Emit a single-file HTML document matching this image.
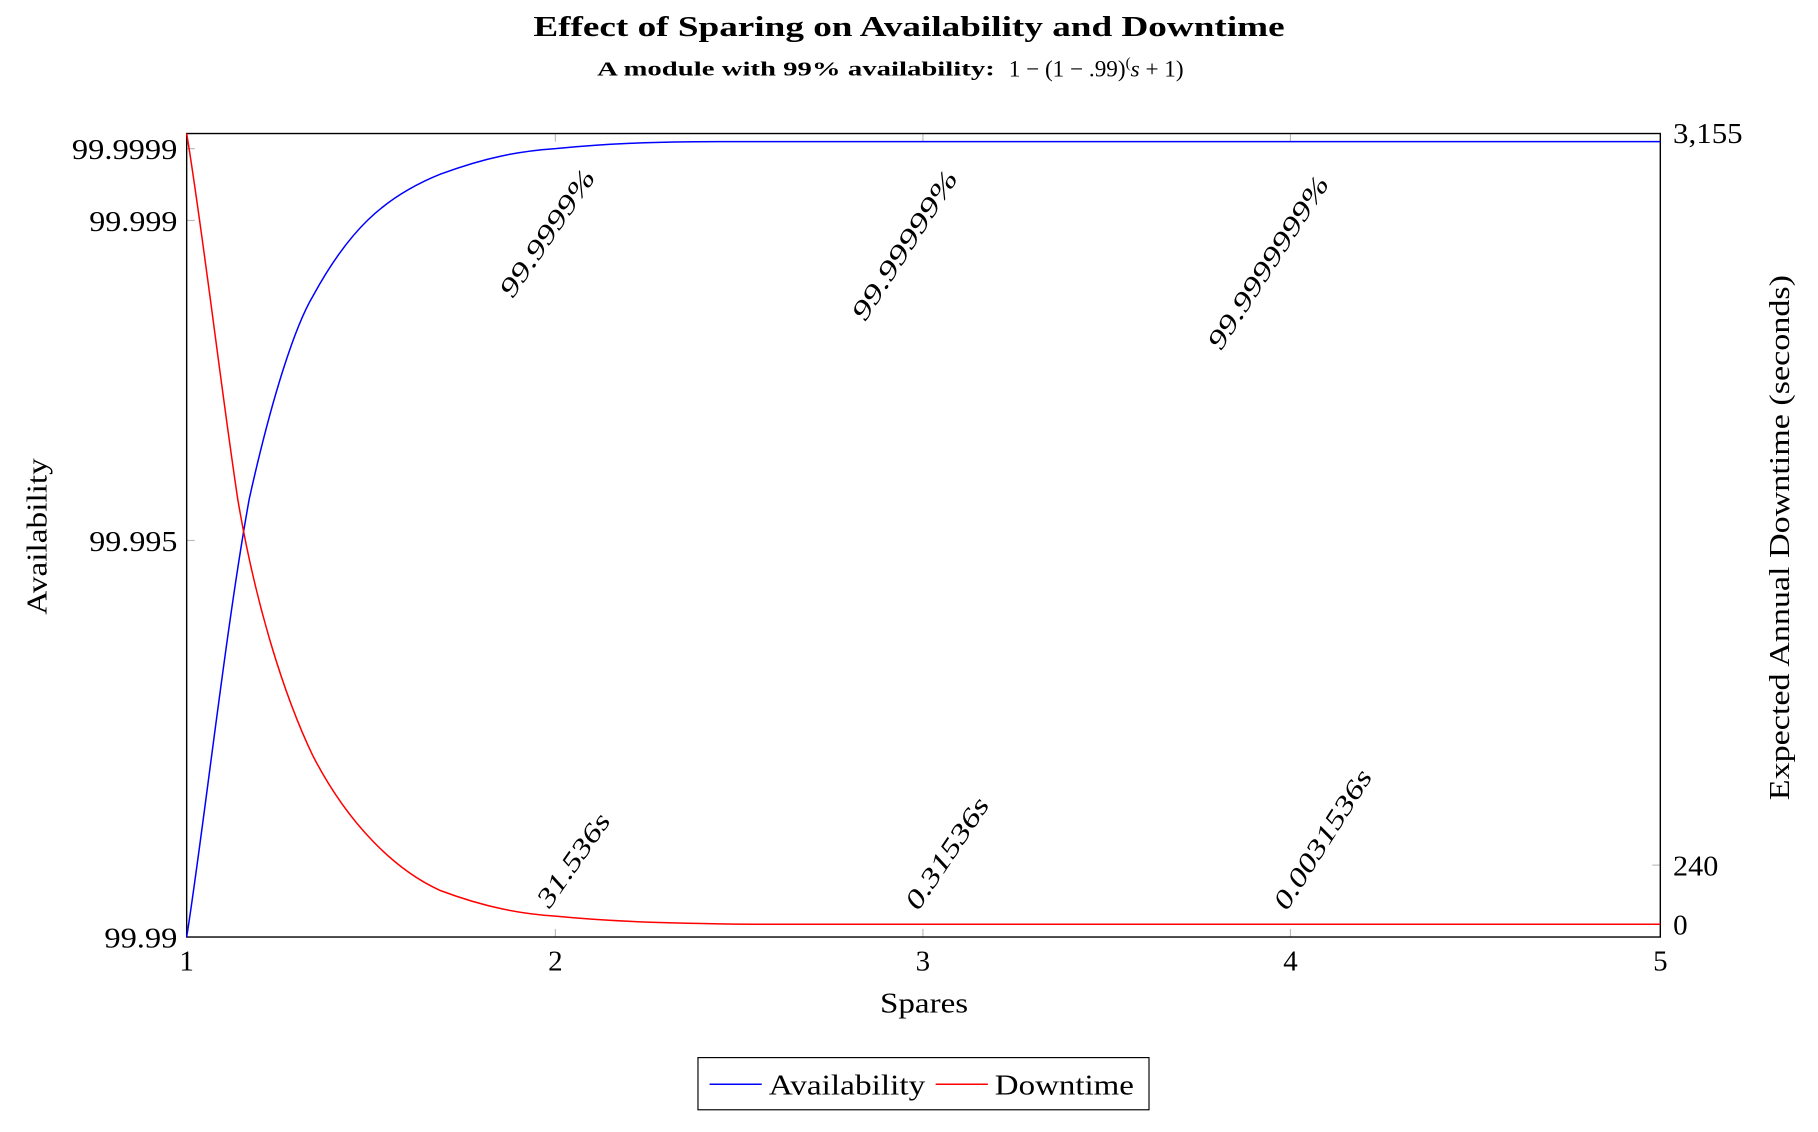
<!DOCTYPE html>
<html><head><meta charset="utf-8"><style>html,body{margin:0;padding:0;background:#fff}svg{display:block}</style></head>
<body>
<svg width="1818" height="1132" viewBox="0 0 1568 976" xmlns="http://www.w3.org/2000/svg" font-family="Liberation Serif, serif">
<text x="460" y="31" textLength="648" lengthAdjust="spacingAndGlyphs" font-size="25" font-weight="bold">Effect of Sparing on Availability and Downtime</text>
<text x="515" y="65" font-size="17" font-weight="bold" textLength="343" lengthAdjust="spacingAndGlyphs">A module with 99% availability:</text>
<text x="870" y="66" font-size="20"><tspan>1 − (1 − .99)</tspan><tspan font-size="13" dy="-8">(</tspan><tspan dy="8" font-style="italic">s</tspan><tspan> + 1)</tspan></text>
<g stroke="#bbb" stroke-width="1">
<line x1="161" y1="128" x2="168" y2="128"/><line x1="161" y1="190" x2="168" y2="190"/><line x1="161" y1="466" x2="168" y2="466"/>
<line x1="1425" y1="746" x2="1432" y2="746"/><line x1="1425" y1="797" x2="1432" y2="797"/>
<line x1="479" y1="115" x2="479" y2="122"/><line x1="796" y1="115" x2="796" y2="122"/><line x1="1113" y1="115" x2="1113" y2="122"/>
<line x1="479" y1="801" x2="479" y2="808"/><line x1="796" y1="801" x2="796" y2="808"/><line x1="1113" y1="801" x2="1113" y2="808"/>
</g>
<rect x="161" y="115" width="1271" height="693" fill="none" stroke="#000" stroke-width="1.2"/>
<g font-size="25">
<text x="62" y="137" textLength="91" lengthAdjust="spacingAndGlyphs">99.9999</text>
<text x="77" y="199" textLength="76" lengthAdjust="spacingAndGlyphs">99.999</text>
<text x="77" y="475" textLength="76" lengthAdjust="spacingAndGlyphs">99.995</text>
<text x="90" y="817" textLength="63" lengthAdjust="spacingAndGlyphs">99.99</text>
<text x="1443" y="123" textLength="60" lengthAdjust="spacingAndGlyphs">3,155</text>
<text x="1443" y="755" textLength="39" lengthAdjust="spacingAndGlyphs">240</text>
<text x="1443" y="806">0</text>
<text x="161" y="837" text-anchor="middle">1</text>
<text x="479" y="837" text-anchor="middle">2</text>
<text x="796" y="837" text-anchor="middle">3</text>
<text x="1113" y="837" text-anchor="middle">4</text>
<text x="1432" y="837" text-anchor="middle">5</text>
<text x="759" y="873" textLength="76" lengthAdjust="spacingAndGlyphs">Spares</text>
<text transform="translate(40,530) rotate(-90)" textLength="135" lengthAdjust="spacingAndGlyphs">Availability</text>
<text transform="translate(1543,690) rotate(-90)" textLength="453" lengthAdjust="spacingAndGlyphs">Expected Annual Downtime (seconds)</text>
</g>
<path fill="none" stroke="#00f" stroke-width="1.3" d="M161,808 C175,720 195,540 215,430 C235,340 255,280 270,255 C300,200 330,170 380,150 C420,135 450,130 479,128 C520,124 560,122 620,122 L1432,122"/>
<path fill="none" stroke="#f00" stroke-width="1.3" d="M161,115 C175,200 190,330 205,430 C220,520 245,600 270,652 C300,710 340,750 380,768 C420,783 450,788 479,790 C520,794 560,796 650,797 L1432,797"/>
<g font-size="23" font-style="italic">
<text transform="translate(442,258) rotate(-55.5)" textLength="128" lengthAdjust="spacingAndGlyphs">99.9999%</text>
<text transform="translate(746,278) rotate(-57)" textLength="149" lengthAdjust="spacingAndGlyphs">99.99999%</text>
<text transform="translate(1053,303) rotate(-57)" textLength="173" lengthAdjust="spacingAndGlyphs">99.9999999%</text>
<text transform="translate(474,784) rotate(-55)" textLength="93" lengthAdjust="spacingAndGlyphs">31.536s</text>
<text transform="translate(792,786) rotate(-56)" textLength="111" lengthAdjust="spacingAndGlyphs">0.31536s</text>
<text transform="translate(1110,786) rotate(-57.5)" textLength="138" lengthAdjust="spacingAndGlyphs">0.0031536s</text>
</g>
<rect x="602" y="912" width="389" height="45" fill="#fff" stroke="#000" stroke-width="1"/>
<line x1="612" y1="935" x2="657" y2="935" stroke="#00f" stroke-width="1.3"/>
<line x1="807" y1="935" x2="852" y2="935" stroke="#f00" stroke-width="1.3"/>
<g font-size="25"><text x="663" y="944" textLength="135" lengthAdjust="spacingAndGlyphs">Availability</text><text x="858" y="944" textLength="120" lengthAdjust="spacingAndGlyphs">Downtime</text></g>
</svg>
</body></html>
